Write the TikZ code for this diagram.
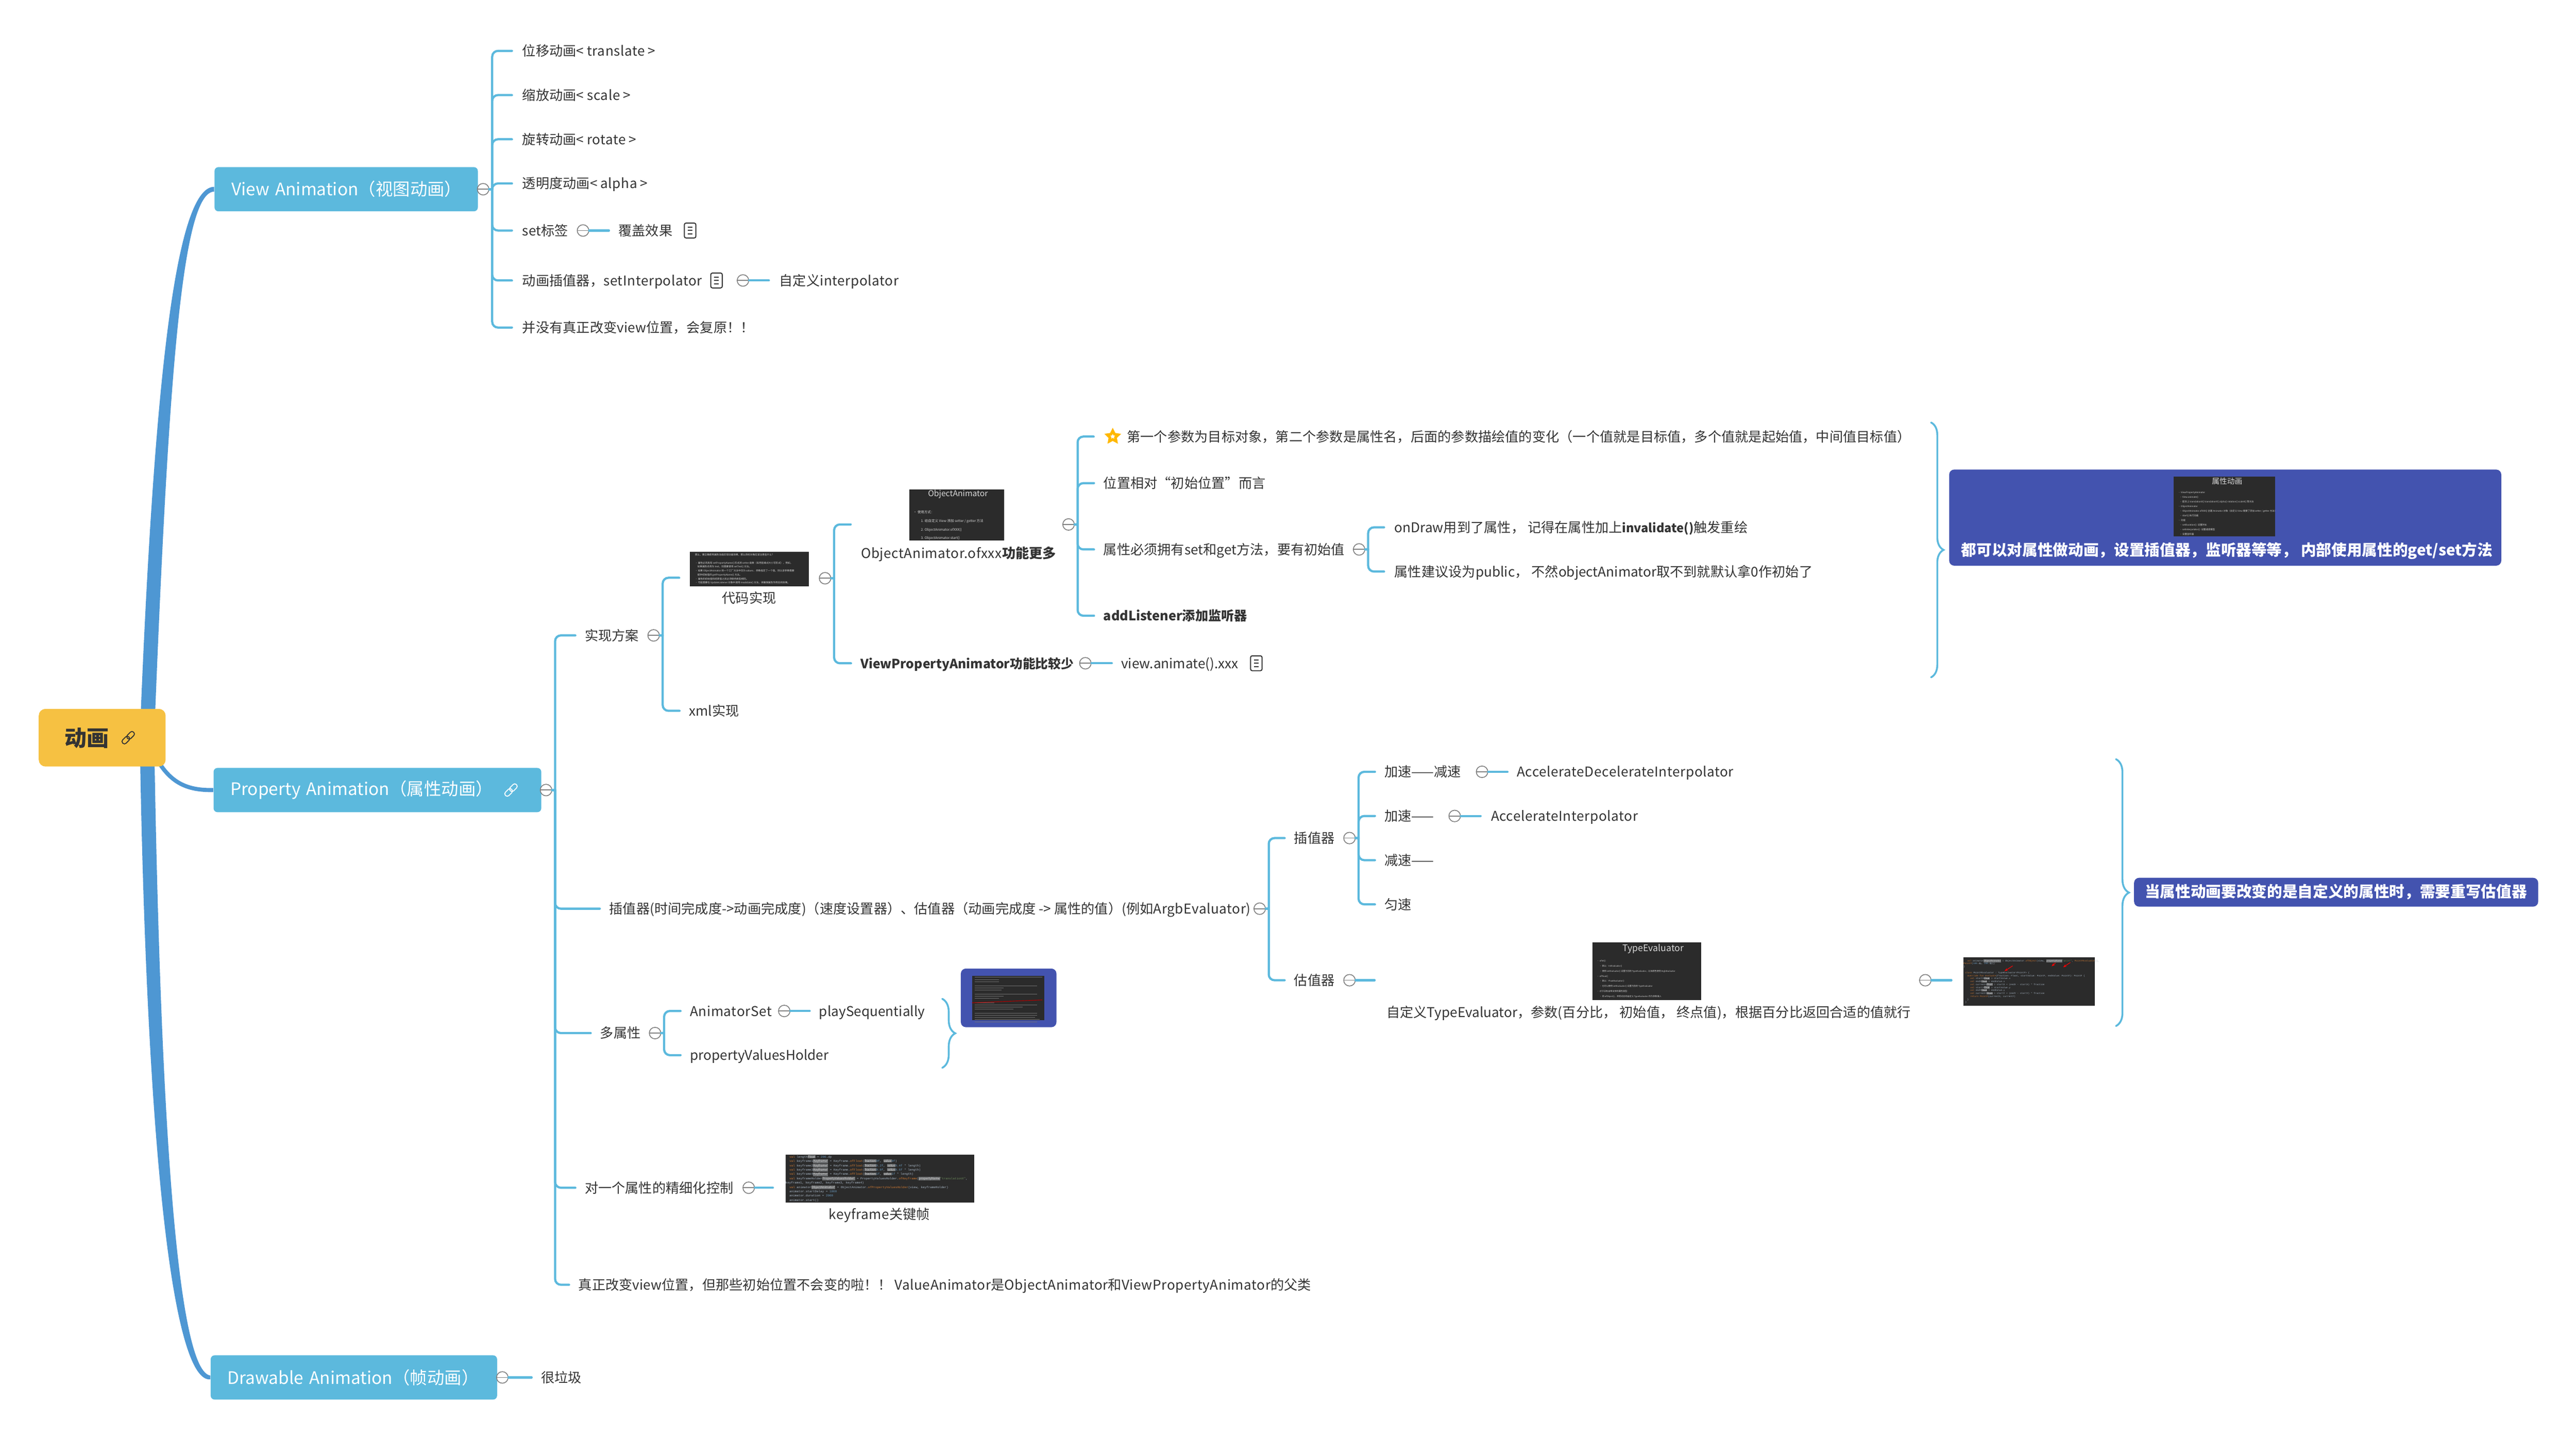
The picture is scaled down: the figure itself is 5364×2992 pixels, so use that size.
\documentclass[tikz,border=0pt]{standalone}
\usepackage{fontspec}
\setmainfont{Noto Sans CJK SC}
\setmonofont{Liberation Mono}
\usetikzlibrary{backgrounds,calc,decorations.pathreplacing,shapes.geometric,arrows.meta}
\definecolor{linkblue}{HTML}{5CB9DD}
\definecolor{stemblue}{HTML}{4E97D3}
\definecolor{rootyellow}{HTML}{F6C142}
\definecolor{sumblue}{HTML}{4353AF}
\definecolor{inkdark}{HTML}{333333}
\definecolor{foldgray}{HTML}{808080}
\definecolor{shotdark}{HTML}{2B2B2B}
\definecolor{shotline}{HTML}{D8D8D8}
\definecolor{codekey}{HTML}{CC7832}
\definecolor{codenum}{HTML}{6897BB}
\definecolor{codestr}{HTML}{6A8759}
\definecolor{codetxt}{HTML}{A9B7C6}
\definecolor{hintgray}{HTML}{6B6D6F}
\setlength{\fboxsep}{0.15pt}
\newcommand{\sline}[1]{\mbox{\spaceskip=0pt\xspaceskip=0pt #1}\\}
\newcommand{\kw}[1]{\textcolor{codekey}{#1}}
\newcommand{\nm}[1]{\textcolor{codenum}{#1}}
\newcommand{\hint}[1]{\colorbox{hintgray}{\textcolor{shotline}{\rmfamily #1}}}
\newcommand{\spaced}[1]{{\addfontfeature{LetterSpace=2.2}#1}}
\tikzset{
  leaf/.style={anchor=west,inner xsep=.19cm,inner ysep=0pt,text=inkdark,
    font=\fontsize{8}{10}\selectfont,text height=8pt,text depth=2pt},
  caption/.style={leaf,anchor=center,inner xsep=0pt},
  topic/.style={anchor=west,fill=linkblue,rounded corners=2.3pt,text=white,align=left,
    inner xsep=.1cm,text width=#1,minimum height=.92cm,execute at begin node=\hspace*{.25cm},
    font=\fontsize{10.2}{12}\selectfont},
  rootbox/.style={anchor=west,fill=rootyellow,rounded corners=4pt,text=inkdark,align=left,
    inner xsep=.54cm,text width=1.56cm,minimum height=1.2cm,text height=12pt,text depth=2pt,
    font=\bfseries\fontsize{13.1}{15}\selectfont},
  summary/.style={anchor=north west,fill=sumblue,rounded corners=3pt,inner sep=0pt},
  sumtext/.style={text=white,inner sep=0pt,font=\bfseries\fontsize{9.05}{11}\selectfont},
  foldmark/.style={circle,draw=foldgray,fill=white,line width=.5pt,inner sep=0pt,minimum size=.24cm,
    path picture={\draw[foldgray,line width=.55pt] (path picture bounding box.west) -- (path picture bounding box.east);}},
  noteicon/.style={rectangle,draw=inkdark,line width=.6pt,rounded corners=1pt,inner sep=0pt,
    minimum width=.24cm,minimum height=.31cm,
    path picture={\foreach \dy in {-7,0,7}
      \draw[inkdark,line width=.6pt,shift={(path picture bounding box.center)}] (-5,\dy) -- (5,\dy);}},
  stub/.style={inner sep=0pt,minimum size=0pt},
  shot/.style 2 args={anchor=north west,fill=shotdark,inner sep=0pt,minimum width=#1cm,
    minimum height=#2cm,text width=#1cm,align=left,text=shotline},
  conn/.style={color=linkblue,line width=1.3pt,line cap=round},
  elbow/.style={conn,to path={(\tikztostart.east) -- ++(6,0) (\tikztostart.east) ++(6,0)
    [rounded corners=3.4pt] |- (\tikztotarget.west)}},
  sumbrace/.style={conn,line width=1.1pt,decorate,decoration={brace,amplitude=#1}},
}
\begin{document}
\begin{tikzpicture}[x=0.01cm,y=-0.01cm]
      \useasboundingbox (0,0) rectangle (5364,2992);
      % main topics
      \draw
        (80,1536) node[rootbox] (root){动画}
        (267,1536) node[stub] (rootlink){}
        (446,394) node[topic=5.28cm] (view){View Animation（视图动画）}
        (444,1645) node[topic=6.62cm] (prop){Property Animation（属性动画）}
        (1064,1645) node[stub] (proplink){}
        (438,2868) node[topic=5.76cm] (drawable){Drawable Animation（帧动画）}
        (306,1536) coordinate (stemfoot)
        (1006,394) node[foldmark] (foldview){}
        (1137,1645) node[foldmark] (foldprop){}
        (1046,2868) node[foldmark] (folddrawable){}
        (1107,2868) node[leaf] (rubbish){很垃圾};
      % view animation
      \draw
        (1066,106) node[leaf,inner xsep=.21cm] (translate){位移动画< \spaced{translate} >}
        (1066,198) node[leaf,inner xsep=.21cm] (scale){缩放动画< \spaced{scale} >}
        (1066,290) node[leaf,inner xsep=.21cm] (rotate){旋转动画< \spaced{rotate} >}
        (1066,382) node[leaf,inner xsep=.21cm] (alpha){透明度动画< \spaced{alpha} >}
        (1066,480) node[leaf,inner xsep=.21cm] (setlabel){set标签}
        (1214,480) node[foldmark] (foldset){}
        (1268,480) node[leaf] (cover){覆盖效果}
        (1437,480) node[noteicon] (covernote){}
        (1066,584) node[leaf,inner xsep=.21cm] (interp){动画插值器，\spaced{setInterpolator}}
        (1492,584) node[noteicon] (interpnote){}
        (1547,584) node[foldmark] (foldinterp){}
        (1601,584) node[leaf,inner xsep=.21cm] (custominterp){自定义\spaced{interpolator}}
        (1066,682) node[leaf,inner xsep=.21cm] (noreal){并没有真正改变view位置，会复原！！};
      % how it is done
      \draw
        (1198,1323) node[leaf] (impl){实现方案}
        (1361,1323) node[foldmark] (foldimpl){}
        (1415,1203) node[stub] (codeend){}
        (1436,1148) node[shot={2.47}{.72}] (codeshot){\fontsize{1.42}{2.36}\selectfont
          \sline{\hspace*{3pt}那么，要正确使用属性动画实现动画效果，那么目标对象应该注意些什么？}
          \sline{\vphantom{x}}
          \sline{\hspace*{3pt}• 属性必须具有 setPropertyName() 形式的 setter 函数（采用驼峰式大小写形式），例如，}
          \sline{\hspace*{4.5pt}如果属性名称为 text，则需要使用 setText() 方法。}
          \sline{\hspace*{3pt}• 如果 ObjectAnimator 的一个工厂方法中仅为 values... 参数指定了一个值，则认该参数需要}
          \sline{\hspace*{4.5pt}提供初始值的 getPropertyName() 方法。}
          \sline{\hspace*{3pt}• 属性的初始值和结束值之间必须保持类型相同。}
          \sline{\hspace*{3pt}• 可能需要在 UpdateListener 对象中调用 invalidate() 方法，来确保属性作用后的效果。}}
        (1560,1245) node[caption] (codelabel){代码实现}
        (1718,1204) node[foldmark] (foldcode){}
        (1415,1480) node[leaf] (xmlway){xml实现}
        (1772,1092) node[stub] (objend){}
        (1893,1018) node[shot={1.97}{1.07}] (objshot){\fontsize{2}{5.1}\selectfont
          \sline{\hspace*{11pt}\fontsize{4.8}{5.1}\selectfont ObjectAnimator}
          \sline{\vphantom{x}}
          \sline{\hspace*{2.3pt}• 使用方式：}
          \sline{\hspace*{6.8pt}1. 给自定义 View 添加 setter / getter 方法}
          \sline{\hspace*{6.8pt}2. ObjectAnimator.ofXXX()}
          \sline{\hspace*{6.8pt}3. ObjectAnimator.start()}}
        (1996,1152) node[caption] (objlabel){\spaced{ObjectAnimator.ofxxx}\textbf{功能更多}}
        (2225,1092) node[foldmark] (foldobj){}
        (2278,909) node[stub] (firstend){}
        (2317,909) node[star,star points=5,star point ratio=2,draw={rgb,255:red,255;green,184;blue,0},fill=white,line width=1.6pt,
          inner sep=0pt,minimum size=.24cm] (staricon){}
        (2325,909) node[leaf,inner xsep=.21cm] (params){第一个参数为目标对象，第二个参数是属性名，后面的参数描绘值的变化（一个值就是目标值，多个值就是起始值，中间值目标值）}
        (2278,1006) node[leaf] (position){位置相对“初始位置”而言}
        (2278,1144) node[leaf] (getset){属性必须拥有set和get方法，要有初始值}
        (2830,1144) node[foldmark] (foldgetset){}
        (2882,1098) node[leaf,inner xsep=.21cm] (ondraw){onDraw用到了属性， 记得在属性加上\textbf{\fontsize{7.2}{10}\selectfont invalidate()}触发重绘}
        (2882,1190) node[leaf,inner xsep=.21cm] (public){属性建议设为public， 不然objectAnimator取不到就默认拿0作初始了}
        (2278,1282) node[leaf,font=\bfseries\fontsize{7.7}{10}\selectfont] (addlistener){addListener添加监听器}
        (1772,1381) node[leaf,font=\bfseries\fontsize{7.55}{10}\selectfont] (vpa){ViewPropertyAnimator功能比较少}
        (2260,1381) node[foldmark] (foldvpa){}
        (2315,1381) node[leaf] (animatexxx){view.animate().xxx}
        (2616,1381) node[noteicon] (vpanote){}
        (4021,879) node[stub] (bracetop){}
        (4021,1411) node[stub] (bracebot){}
        (4058,977) node[summary,minimum width=11.49cm,minimum height=2cm] (attrbox){}
        (4525,992) node[shot={2.12}{1.24}] (attrshot){\fontsize{1.35}{2.76}\selectfont
          \sline{\hspace*{22.8pt}\fontsize{4.5}{5}\selectfont 属性动画}
          \sline{\vphantom{x}}
          \sline{\hspace*{2.8pt}• ViewPropertyAnimator}
          \sline{\hspace*{3.7pt}• View.animate()}
          \sline{\hspace*{3.7pt}• 配合上 translationX() translationY() alpha() rotation() scaleX() 等方法}
          \sline{\hspace*{2.8pt}• ObjectAnimator}
          \sline{\hspace*{3.7pt}• ObjectAnimator.ofXXX() 创建 Animator 对象（自定义 View 需要了添加 setter / getter 方法）}
          \sline{\hspace*{3.7pt}• start() 执行动画}
          \sline{\hspace*{2.8pt}• 功能}
          \sline{\hspace*{3.7pt}• setDuration(): 设置时长}
          \sline{\hspace*{3.7pt}• setInterpolator(): 设置速度模型}
          \sline{\hspace*{3.7pt}• 设置监听器}}
        (4637,1147) node[sumtext] (attrtext){都可以对属性做动画，设置插值器，监听器等等， 内部使用属性的get/set方法};
      \begin{scope}[shift={(0,3)}]
      % interpolator and evaluator
      \draw
        (1249,1889) node[leaf] (interpeval){插值器(时间完成度->动画完成度)（速度设置器）、估值器（动画完成度 -> 属性的值）(例如\spaced{ArgbEvaluator})}
        (2623,1889) node[foldmark] (foldie){}
        (2675,1742) node[leaf] (interpolator){插值器}
        (2810,1742) node[foldmark] (foldinterpolator){}
        (2863,1604) node[leaf] (accdec){加速——减速}
        (3086,1604) node[foldmark] (foldaccdec){}
        (3139,1604) node[leaf] (accdecname){\spaced{AccelerateDecelerateInterpolator}}
        (2863,1696) node[leaf] (acc){加速——}
        (3029,1696) node[foldmark] (foldacc){}
        (3083,1696) node[leaf,inner xsep=.21cm] (accname){\spaced{AccelerateInterpolator}}
        (2863,1788) node[leaf] (dec){减速——}
        (2863,1880) node[leaf] (linear){匀速}
        (2675,2038) node[leaf] (evaluator){估值器}
        (2810,2038) node[foldmark] (foldevaluator){}
        (2863,2038) node[stub] (evalend){}
        (3315,1958) node[shot={2.26}{1.2}] (evalshot){\fontsize{1.25}{3}\selectfont
          \sline{\hspace*{18pt}\fontsize{5.4}{5.6}\selectfont TypeEvaluator}
          \sline{\vphantom{x}}
          \sline{\hspace*{2.8pt}• ofInt()}
          \sline{\hspace*{4.3pt}• 默认：IntEvaluator()}
          \sline{\hspace*{4.3pt}• 使用 setEvaluator() 设置为别的 TypeEvaluator，比如颜色使用 ArgbEvaluator}
          \sline{\hspace*{2.8pt}• ofFloat()}
          \sline{\hspace*{4.3pt}• 默认：FloatEvaluator()}
          \sline{\hspace*{4.3pt}• 也可以使用 setEvaluator() 设置为别的 TypeEvaluator}
          \sline{\hspace*{2.8pt}• 对于没有自带支持的属性类型：}
          \sline{\hspace*{4.3pt}• 用 ofObject()，并把对应的自定义 TypeEvaluator 作为参数填入}}
        (3433,2105) node[caption] (evallabel){自定义TypeEvaluator，参数(百分比， 初始值， 终点值)，根据百分比返回合适的值就行}
        (4009,2038) node[foldmark] (foldcustom){}
        (4064,2038) node[stub] (customend){}
        (4088,1990) node[shot={2.73}{1}] (pointshot){\ttfamily\fontsize{1.35}{1.76}\selectfont\color{codetxt}
          \sline{\hspace*{2.2pt}\kw{val} animator\hint{ObjectAnimator} = ObjectAnimator.\kw{ofObject}(view, \hint{propertyName}\textcolor{codestr}{"point"}, \kw{PointFEvaluator}(),}
          \sline{\kw{PointF}(\nm{100}.dp, \nm{200}.dp))}
          \sline{\}}
          \sline{\vphantom{x}}
          \sline{\hspace*{1pt}\kw{class} PointFEvaluator : TypeEvaluator<PointF> \{}
          \sline{\hspace*{2.2pt}\kw{override fun} \kw{evaluate}(fraction: Float, startValue: PointF, endValue: PointF): PointF \{}
          \sline{\hspace*{4pt}\kw{val} startX\hint{Float} = startValue.x}
          \sline{\hspace*{4pt}\kw{val} endX\hint{Float} = endValue.x}
          \sline{\hspace*{4pt}\kw{val} currentX\hint{Float} = startX + (endX - startX) * fraction}
          \sline{\hspace*{4pt}\kw{val} startY\hint{Float} = startValue.y}
          \sline{\hspace*{4pt}\kw{val} endY\hint{Float} = endValue.y}
          \sline{\hspace*{4pt}\kw{val} currentY\hint{Float} = startY + (endY - startY) * fraction}
          \sline{\hspace*{4pt}\kw{return} \kw{PointF}(currentX, currentY)}
          \sline{\hspace*{2.2pt}\}}
          \sline{\hspace*{1pt}\}}}
        (4406,1577) node[stub] (evaltop){}
        (4406,2134) node[stub] (evalbot){}
        (4443,1824) node[summary,minimum width=8.41cm,minimum height=.6cm] (custombox){}
        (4864,1854) node[sumtext] (customtext){当属性动画要改变的是自定义的属性时，需要重写估值器};
      % several properties and keyframes
      \draw
        (1230,2148) node[leaf] (multi){多属性}
        (1364,2148) node[foldmark] (foldmulti){}
        (1417,2102) node[leaf] (animset){\spaced{AnimatorSet}}
        (1633,2102) node[foldmark] (foldanimset){}
        (1686,2102) node[leaf] (playseq){playSequentially}
        (1417,2194) node[leaf] (pvh){propertyValuesHolder}
        (1962,2076) node[stub] (multitop){}
        (1962,2221) node[stub] (multibot){}
        (2000,2013) node[summary,minimum width=1.99cm,minimum height=1.22cm] (multibox){}
        (2024,2028) node[shot={1.5}{.92}] (multishot){}
        (1198,2470) node[leaf] (finectl){对一个属性的精细化控制}
        (1559,2470) node[foldmark] (foldfine){}
        (1610,2470) node[stub] (fineend){}
        (1635,2400) node[shot={3.93}{1}] (keyshot){\ttfamily\fontsize{1.8}{2.56}\selectfont\color{codetxt}
          \sline{\hspace*{2.3pt}\kw{val} length\hint{Float} = \nm{200}.dp}
          \sline{\hspace*{2.3pt}\kw{val} keyframe1\hint{Keyframe!} = Keyframe.\kw{ofFloat}(\hint{fraction}\nm{0f}, \hint{value}\nm{0f})}
          \sline{\hspace*{2.3pt}\kw{val} keyframe2\hint{Keyframe!} = Keyframe.\kw{ofFloat}(\hint{fraction}\nm{0.2f}, \hint{value}\nm{0.4f} * length)}
          \sline{\hspace*{2.3pt}\kw{val} keyframe3\hint{Keyframe!} = Keyframe.\kw{ofFloat}(\hint{fraction}\nm{0.8f}, \hint{value}\nm{0.6f} * length)}
          \sline{\hspace*{2.3pt}\kw{val} keyframe4\hint{Keyframe!} = Keyframe.\kw{ofFloat}(\hint{fraction}\nm{1f}, \hint{value}\nm{1f} * length)}
          \sline{\hspace*{2.3pt}\kw{val} keyframeHolder\hint{PropertyValuesHolder!} = PropertyValuesHolder.\kw{ofKeyframe}(\hint{propertyName}\textcolor{codestr}{"translationX"},}
          \sline{keyframe1, keyframe2, keyframe3, keyframe4)}
          \sline{\hspace*{2.3pt}\kw{val} animator\hint{ObjectAnimator!} = ObjectAnimator.\kw{ofPropertyValuesHolder}(view, keyframeHolder)}
          \sline{\hspace*{2.3pt}animator.startDelay = \nm{1000}}
          \sline{\hspace*{2.3pt}animator.duration = \nm{2000}}
          \sline{\hspace*{2.3pt}animator.start()}}
        (1831,2525) node[caption] (keylabel){\spaced{keyframe}关键帧}
        (1185,2672) node[leaf] (realmove){真正改变view位置，但那些初始位置不会变的啦！！  \spaced{ValueAnimator}是\spaced{ObjectAnimator}和\spaced{ViewPropertyAnimator}的父类};
      \foreach \row/\len in {0/140,1/50,2/50,4/130,5/60,6/55,8/130,9/60,10/50,12/40,13/130,14/100,15/80,17/130,18/130,19/125,20/135,21/130}
        \draw[shotline!40!shotdark,line width=.3pt] (2030,2032+\row*4.4) -- ++(\len,0);
      \draw[red!70!black,line width=.35pt] (2024,2085) -- (2170,2079);
      \draw[-{Stealth[length=2pt]},red,line width=.35pt] (4191,2008) -- (4174,2019);
      \draw[-{Stealth[length=2pt]},red,line width=.35pt] (4280,2002) -- (4272,2009);
      \draw[-{Stealth[length=2pt]},red,line width=.35pt] (4311,2001) -- (4296,2011);
      \end{scope}
      % chain marks
      \foreach \icon/\inkcol in {rootlink/inkdark,proplink/white}{
        \begin{scope}[shift={(\icon.center)},rotate=45,rounded corners=1.3pt,color=\inkcol,line width=.55pt]
          \draw (-16,-5) rectangle (2,5);
          \draw (-2,-5) rectangle (16,5);
        \end{scope}
      }
      % thick branches from the root
      \begin{scope}[on background layer]
        \fill[stemblue] ($(stemfoot)+(-15,0)$) .. controls (320,800) and (365,389) .. ($(view.west)+(0,-5)$) -- ($(view.west)+(0,5)$) .. controls (378,399) and (350,800) .. ($(stemfoot)+(15,0)$) -- cycle;
        \fill[stemblue] ($(stemfoot)+(-15,0)$) .. controls (305,2400) and (360,2880) .. ($(drawable.west)+(0,4)$) -- ($(drawable.west)+(0,-4)$) .. controls (374,2856) and (335,2400) .. ($(stemfoot)+(15,0)$) -- cycle;
        \draw[stemblue,line width=2.4pt] (stemfoot) .. controls (340,1625) and (380,1646) .. (prop.west);
      \end{scope}
      \begin{scope}[elbow]
        \draw (foldview) to (translate);
        \draw (foldview) to (scale);
        \draw (foldview) to (rotate);
        \draw (foldview) to (alpha);
        \draw (foldview) to (setlabel);
        \draw (foldview) to (interp);
        \draw (foldview) to (noreal);
        \draw (foldprop) to (impl);
        \draw (foldprop) to (interpeval);
        \draw (foldprop) to (multi);
        \draw (foldprop) to (finectl);
        \draw (foldprop) to (realmove);
        \draw (foldimpl) to (codeend);
        \draw (foldimpl) to (xmlway);
        \draw (foldcode) to (objend);
        \draw (foldcode) to (vpa);
        \draw (foldobj) to (firstend);
        \draw (foldobj) to (position);
        \draw (foldobj) to (getset);
        \draw (foldobj) to (addlistener);
        \draw (foldgetset) to (ondraw);
        \draw (foldgetset) to (public);
        \draw (foldie) to (interpolator);
        \draw (foldie) to (evaluator);
        \draw (foldinterpolator) to (accdec);
        \draw (foldinterpolator) to (acc);
        \draw (foldinterpolator) to (dec);
        \draw (foldinterpolator) to (linear);
        \draw (foldmulti) to (animset);
        \draw (foldmulti) to (pvh);
      \end{scope}
      \begin{scope}[conn]
        \draw (folddrawable) to (rubbish);
        \draw (foldset) to (cover);
        \draw (foldinterp) to (custominterp);
        \draw (foldvpa) to (animatexxx);
        \draw (foldaccdec) to (accdecname);
        \draw (foldacc) to (accname);
        \draw (foldevaluator) to (evalend);
        \draw (foldcustom) to (customend);
        \draw (foldanimset) to (playseq);
        \draw (foldfine) to (fineend);
      \end{scope}
      \draw[sumbrace=7.4pt] (bracetop) -- (bracebot);
      \draw[sumbrace=7.7pt] (evaltop) -- (evalbot);
      \draw[sumbrace=7.7pt] (multitop) -- (multibot);
    \end{tikzpicture}
\end{document}
